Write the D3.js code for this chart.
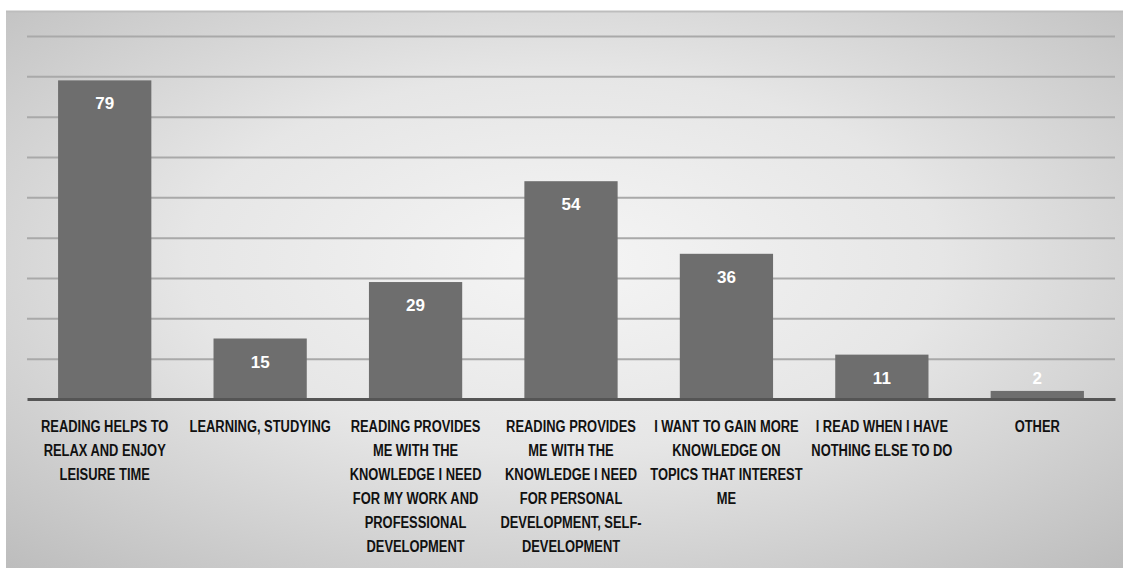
<!DOCTYPE html>
<html>
<head>
<meta charset="utf-8">
<script src="https://cdn.jsdelivr.net/npm/d3@7"></script>
<style>
  html, body { margin: 0; padding: 0; background: #ffffff; }
  svg { display: block; }
</style>
</head>
<body>
<div id="chart"></div>
<script>
// ---- Data ----
const categories = [
  "READING HELPS TO RELAX AND ENJOY LEISURE TIME",
  "LEARNING, STUDYING",
  "READING PROVIDES ME WITH THE KNOWLEDGE I NEED FOR MY WORK AND PROFESSIONAL DEVELOPMENT",
  "READING PROVIDES ME WITH THE KNOWLEDGE I NEED FOR PERSONAL DEVELOPMENT, SELF-DEVELOPMENT",
  "I WANT TO GAIN MORE KNOWLEDGE ON TOPICS THAT INTEREST ME",
  "I READ WHEN I HAVE NOTHING ELSE TO DO",
  "OTHER"
];
const categoryLines = [
  ["READING HELPS TO", "RELAX AND ENJOY", "LEISURE TIME"],
  ["LEARNING, STUDYING"],
  ["READING PROVIDES", "ME WITH THE", "KNOWLEDGE I NEED", "FOR MY WORK AND", "PROFESSIONAL", "DEVELOPMENT"],
  ["READING PROVIDES", "ME WITH THE", "KNOWLEDGE I NEED", "FOR PERSONAL", "DEVELOPMENT, SELF-", "DEVELOPMENT"],
  ["I WANT TO GAIN MORE", "KNOWLEDGE ON", "TOPICS THAT INTEREST", "ME"],
  ["I READ WHEN I HAVE", "NOTHING ELSE TO DO"],
  ["OTHER"]
];
const values = [79, 15, 29, 54, 36, 11, 2];
const yTicks = [0, 10, 20, 30, 40, 50, 60, 70, 80, 90];

// ---- Layout ----
const W = 1123, H = 568;
const box = { x: 6, y: 11, w: W - 6, h: H - 11 };
const plot = { left: 27, right: 1115, top: 36, bottom: 399 };
const fontFam = "'Liberation Sans', Arial, sans-serif";

const svg = d3.select("#chart").append("svg")
  .attr("width", W).attr("height", H);

const defs = svg.append("defs");
const rg = defs.append("radialGradient").attr("id", "bg")
  .attr("cx", "50%").attr("cy", "45%").attr("r", "75%");
rg.append("stop").attr("offset", "0%").attr("stop-color", "#f5f5f5");
rg.append("stop").attr("offset", "45%").attr("stop-color", "#e6e6e6");
rg.append("stop").attr("offset", "100%").attr("stop-color", "#bcbcbc");

svg.append("rect")
  .attr("x", box.x).attr("y", box.y).attr("width", box.w).attr("height", box.h)
  .attr("fill", "url(#bg)");
svg.append("line")
  .attr("x1", box.x).attr("x2", W).attr("y1", box.y + 0.5).attr("y2", box.y + 0.5)
  .attr("stroke", "#bdbdbd").attr("stroke-width", 2);

const x = d3.scaleBand().domain(categories)
  .range([plot.left, plot.right]).paddingInner(0.4).paddingOuter(0.2);
const y = d3.scaleLinear().domain([0, 90]).range([plot.bottom, plot.top]);

// gridlines
const yAxis = d3.axisLeft(y).tickValues(yTicks.filter(d => d > 0))
  .tickSize(-(plot.right - plot.left)).tickFormat("");
const gy = svg.append("g").attr("transform", `translate(${plot.left},0)`).call(yAxis);
gy.select(".domain").remove();
gy.selectAll(".tick line").attr("stroke", "#a9a9a9").attr("stroke-width", 2);

// bars
svg.append("g").selectAll("rect").data(values).join("rect")
  .attr("x", (d, i) => x(categories[i]))
  .attr("width", x.bandwidth())
  .attr("y", d => y(d))
  .attr("height", d => y(0) - y(d))
  .attr("fill", "#6e6e6e");

// baseline
const xAxis = d3.axisBottom(x).tickSize(0).tickFormat("");
const gx = svg.append("g").attr("transform", `translate(0,${y(0)})`).call(xAxis);
gx.select(".domain").attr("stroke", "#555555").attr("stroke-width", 3);

// value labels
svg.append("g").selectAll("text").data(values).join("text")
  .attr("x", (d, i) => x(categories[i]) + x.bandwidth() / 2)
  .attr("y", d => (y(0) - y(d) > 30 ? y(d) + 29 : y(d) - 7))
  .attr("text-anchor", "middle")
  .attr("font-family", fontFam)
  .attr("font-weight", "bold")
  .attr("font-size", 17)
  .attr("fill", "#ffffff")
  .text(d => d);

// category labels (horizontally condensed to mimic a narrow font)
const lab = svg.append("g").selectAll("text").data(categoryLines).join("text")
  .attr("transform", (d, i) => `translate(${x(categories[i]) + x.bandwidth() / 2},432) scale(0.76,1)`)
  .attr("x", 0)
  .attr("y", 0)
  .attr("text-anchor", "middle")
  .attr("font-family", fontFam)
  .attr("font-weight", "bold")
  .attr("font-size", 17)
  .attr("fill", "#111111");
lab.each(function(lines) {
  const t = d3.select(this);
  lines.forEach((ln, k) => {
    t.append("tspan").attr("x", 0).attr("dy", k === 0 ? 0 : 24).text(ln);
  });
});
</script>
</body>
</html>
